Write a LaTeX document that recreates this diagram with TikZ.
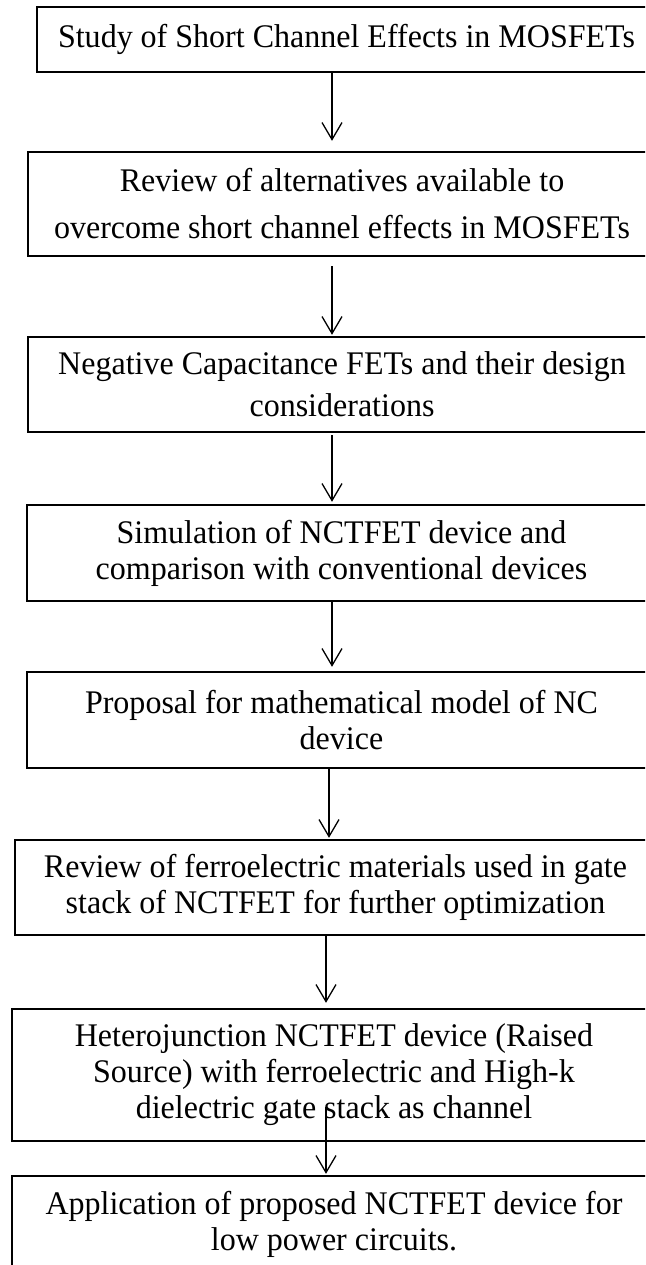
\documentclass[tikz,border=0pt]{standalone}
\usepackage{fontspec}
\setmainfont{Liberation Serif}[FakeStretch=0.97]
\usetikzlibrary{arrows.meta}
\tikzset{
  stepbox/.style={rectangle, align=center, inner sep=0pt,
    font=\fontsize{33}{36}\selectfont},
  boxline/.style={draw=black, line width=2pt, line join=miter},
  arr/.style={draw=black, line width=1.3pt, -{Straight Barb[length=17pt,width=20pt,line width=1.3pt]}}
}
\begin{document}
\begin{tikzpicture}[x=1pt,y=-1pt]
\path[fill=white, use as bounding box] (0,0) rectangle (645,1265);
\clip (0,0) rectangle (645,1265);

\node[stepbox, minimum width=619pt, minimum height=65pt] (b1) at (346.5,39.5)
  {Study of Short Channel Effects in MOSFETs};
\node[stepbox, minimum width=628pt, minimum height=104pt] (b2) at (342,204)
  {Review of alternatives available to\\[11pt]overcome short channel effects in MOSFETs};
\node[stepbox, minimum width=628pt, minimum height=95pt] (b3) at (342,384.5)
  {Negative Capacitance FETs and their design\\[6pt]considerations};
\node[stepbox, minimum width=629pt, minimum height=96pt] (b4) at (341.5,553)
  {Simulation of NCTFET device and\\comparison with conventional devices};
\node[stepbox, minimum width=629pt, minimum height=96pt] (b5) at (341.5,720)
  {Proposal for mathematical model of NC\\device};
\node[stepbox, minimum width=641pt, minimum height=95pt] (b6) at (335.5,887.5)
  {Review of ferroelectric materials used in gate\\stack of NCTFET for further optimization};
\node[stepbox, minimum width=644pt, minimum height=132pt] (b7) at (334,1075)
  {Heterojunction NCTFET device (Raised\\Source) with ferroelectric and High-k\\dielectric gate stack as channel};
\node[stepbox, minimum width=644pt, minimum height=96pt] (b8) at (334,1224)
  {Application of proposed NCTFET device for\\low power circuits.};

\foreach \b in {b1,b2,b3,b4,b5,b6,b7,b8}
  \draw[boxline] ([xshift=20pt]\b.north east) -- (\b.north west) -- (\b.south west) -- ([xshift=20pt]\b.south east);

\draw[arr] ([xshift=-14.5pt]b1.south) -- ([xshift=-10pt,yshift=11pt]b2.north);
\draw[arr] ([xshift=-10pt,yshift=-10pt]b2.south) -- ([xshift=-10pt,yshift=2pt]b3.north);
\draw[arr] ([xshift=-10pt,yshift=-3pt]b3.south) -- ([xshift=-9.5pt,yshift=3pt]b4.north);
\draw[arr] ([xshift=-9.5pt]b4.south) -- ([xshift=-9.5pt,yshift=5pt]b5.north);
\draw[arr] ([xshift=-12.5pt]b5.south) -- ([xshift=-6.5pt,yshift=2pt]b6.north);
\draw[arr] ([xshift=-9.5pt]b6.south) -- ([xshift=-8pt,yshift=6pt]b7.north);
\draw[arr] ([xshift=-8pt,yshift=34pt]b7.south) -- ([xshift=-8pt,yshift=2pt]b8.north);
\end{tikzpicture}
\end{document}
